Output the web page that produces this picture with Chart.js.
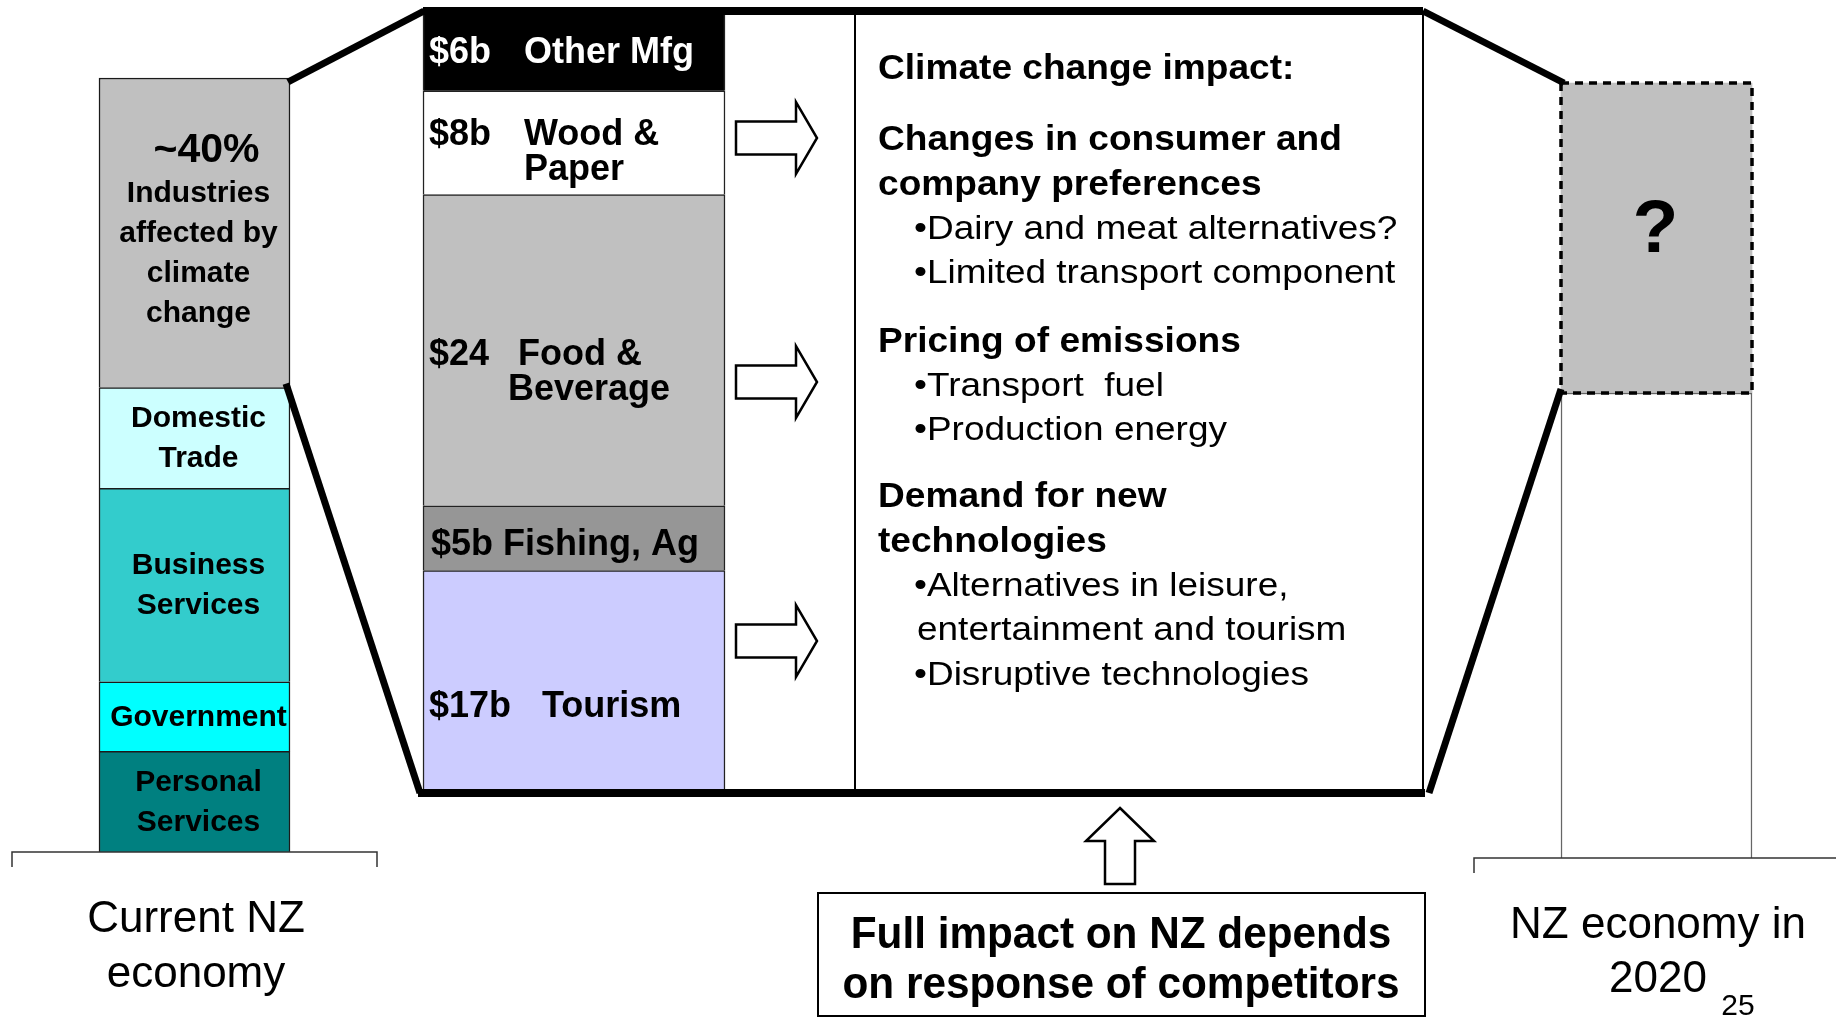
<!DOCTYPE html>
<html lang="en">
<head>
    <meta charset="UTF-8">
    <title>Climate change and the NZ economy</title>
    <script src="https://cdn.jsdelivr.net/npm/chart.js"></script>
    <style>
        body {
            margin: 0;
            background: #ffffff;
        }
        #wrap {
            width: 1836px;
            height: 1018px;
        }
    </style>
</head>
<body>
    <div id="wrap"><canvas id="slide" width="1836" height="1018"></canvas></div>
    <script>
        // Current economy, % share (stacked bottom to top)
        const currentSectors = ['Personal Services', 'Government', 'Business Services', 'Domestic Trade', 'Industries affected by climate change'];
        const currentShares = [13, 9, 25, 13, 40];
        const currentLabels = [['Personal', 'Services'], ['Government'], ['Business', 'Services'], ['Domestic', 'Trade'], ['~40%', 'Industries', 'affected by', 'climate', 'change']];

        // Affected industries, $b (stacked bottom to top)
        const affectedSectors = ['Tourism', 'Fishing, Ag', 'Food & Beverage', 'Wood & Paper', 'Other Mfg'];
        const affectedValues = [17, 5, 24, 8, 6];
        const affectedValueLabels = ['$17b', '$5b', '$24', '$8b', '$6b'];
        const affectedNameLines = [['Tourism'], ['Fishing, Ag'], ['Food &', 'Beverage'], ['Wood &', 'Paper'], ['Other Mfg']];

        // NZ economy in 2020, % share (unknown part on top)
        const futureParts = ['Rest of economy', 'Affected industries'];
        const futureShares = [60, 40];

        const columnTitles = [['Current NZ', 'economy'], ['NZ economy in', '2020']];

        const panelLines = [
            { t: 'Climate change impact:', k: 'h' },
            { t: 'Changes in consumer and', k: 'h', gap: 27 },
            { t: 'company preferences', k: 'h' },
            { t: '\u2022Dairy and meat alternatives?', k: 'b' },
            { t: '\u2022Limited transport component', k: 'b' },
            { t: 'Pricing of emissions', k: 'h', gap: 24 },
            { t: '\u2022Transport  fuel', k: 'b' },
            { t: '\u2022Production energy', k: 'b' },
            { t: 'Demand for new', k: 'h', gap: 23 },
            { t: 'technologies', k: 'h' },
            { t: '\u2022Alternatives in leisure,', k: 'b' },
            { t: 'entertainment and tourism', k: 'b' },
            { t: '\u2022Disruptive technologies', k: 'b' }
        ];
        const footnote = ['Full impact on NZ depends', 'on response of competitors'];

        // ---- layout ----
        const W = 1836, H = 1018;
        const FONT = "'Liberation Sans', Arial, Helvetica, sans-serif";
        const colX = [194.5, 574, 1656.5];          // column centres
        const colW = [191, 302, 191];
        const panel = { left: 855, right: 1423 };
        const arrowRowsY = [138, 382, 641];
        const currentColors = ['#008080', '#00ffff', '#33cccc', '#ccffff', '#c0c0c0'];
        const affectedColors = ['#ccccff', '#969696', '#c0c0c0', '#ffffff', '#000000'];
        const affectedNameDx = [119, null, [95, 85], 101, 101];
        const affectedDy = [36, 17, 15, 2, 11];

        function sum(a) { return a.reduce((s, v) => s + v, 0); }
        // value range so that 0 sits at basePx and the full stack reaches topPx
        function span(total, topPx, basePx) {
            const u = (basePx - topPx) / total;
            return { min: -(H - basePx) / u, max: basePx / u };
        }

        const datasets = [];
        currentSectors.forEach((name, i) => datasets.push({
            label: name,
            data: [{ x: colX[0], y: currentShares[i] }],
            yAxisID: 'yL',
            backgroundColor: currentColors[i],
            borderColor: '#1a1a1a',
            borderWidth: 1.5,
            barThickness: colW[0]
        }));
        affectedSectors.forEach((name, i) => datasets.push({
            label: name,
            data: [{ x: colX[1], y: affectedValues[i] }],
            yAxisID: 'yM',
            backgroundColor: affectedColors[i],
            borderColor: '#222',
            borderWidth: 1.5,
            barThickness: colW[1]
        }));
        futureParts.forEach((name, i) => datasets.push({
            label: name,
            data: [{ x: colX[2], y: futureShares[i] }],
            yAxisID: 'yR',
            backgroundColor: i === 0 ? '#ffffff' : '#c0c0c0',
            borderColor: '#666',
            borderWidth: i === 0 ? 1.5 : 0,
            barThickness: colW[2]
        }));

        function write(ctx, str, x, y, o) {
            ctx.save();
            ctx.font = (o.bold ? 'bold ' : '') + o.size + 'px ' + FONT;
            ctx.fillStyle = o.color || '#000';
            ctx.textAlign = o.align || 'left';
            ctx.textBaseline = 'alphabetic';
            ctx.translate(x, y);
            ctx.scale(o.sx || 1, 1);
            ctx.fillText(str, 0, 0);
            ctx.restore();
        }

        function line(ctx, x1, y1, x2, y2, w) {
            ctx.beginPath();
            ctx.lineWidth = w;
            ctx.moveTo(x1, y1);
            ctx.lineTo(x2, y2);
            ctx.stroke();
        }

        function blockArrowRight(ctx, x0, cy) {
            ctx.beginPath();
            ctx.moveTo(x0, cy - 16.5);
            ctx.lineTo(x0 + 60, cy - 16.5);
            ctx.lineTo(x0 + 60, cy - 36);
            ctx.lineTo(x0 + 81, cy);
            ctx.lineTo(x0 + 60, cy + 36);
            ctx.lineTo(x0 + 60, cy + 16.5);
            ctx.lineTo(x0, cy + 16.5);
            ctx.closePath();
            ctx.fillStyle = '#fff';
            ctx.fill();
            ctx.lineWidth = 2.5;
            ctx.stroke();
        }

        function blockArrowUp(ctx, cx, tipY, bottomY) {
            ctx.beginPath();
            ctx.moveTo(cx, tipY);
            ctx.lineTo(cx + 34, tipY + 33);
            ctx.lineTo(cx + 15, tipY + 33);
            ctx.lineTo(cx + 15, bottomY);
            ctx.lineTo(cx - 15, bottomY);
            ctx.lineTo(cx - 15, tipY + 33);
            ctx.lineTo(cx - 34, tipY + 33);
            ctx.closePath();
            ctx.fillStyle = '#fff';
            ctx.fill();
            ctx.lineWidth = 2.5;
            ctx.stroke();
        }

        const slideArt = {
            id: 'slideArt',
            afterDatasetsDraw(chart) {
                const ctx = chart.ctx;
                const el = i => chart.getDatasetMeta(i).data[0].getProps(['x', 'y', 'base', 'width'], true);
                const nL = currentSectors.length, nM = affectedSectors.length;
                const L = currentSectors.map((_, i) => el(i));
                const M = affectedSectors.map((_, i) => el(nL + i));
                const R = futureParts.map((_, i) => el(nL + nM + i));

                const lRight = L[0].x + L[0].width / 2;
                const mLeft = M[0].x - M[0].width / 2;
                const mTop = M[nM - 1].y, mBase = M[0].base;
                const rLeft = R[0].x - R[0].width / 2;
                const gray = L[nL - 1], rGray = R[1];

                ctx.save();
                ctx.strokeStyle = '#000';
                ctx.lineCap = 'butt';

                // dashed outline of the unknown 2020 share
                ctx.setLineDash([8, 6]);
                ctx.lineWidth = 3.5;
                ctx.strokeRect(rGray.x - rGray.width / 2, rGray.y, rGray.width, rGray.base - rGray.y);
                ctx.setLineDash([]);

                // ground lines under the outer columns
                ctx.strokeStyle = '#333';
                ctx.lineWidth = 1.5;
                [L[0], R[0]].forEach(b => {
                    const y = b.base, x1 = b.x - b.width / 2 - 87, x2 = b.x + b.width / 2 + 87;
                    ctx.beginPath();
                    ctx.moveTo(x1, y + 15); ctx.lineTo(x1, y); ctx.lineTo(x2, y); ctx.lineTo(x2, y + 15);
                    ctx.stroke();
                });

                // panel frame
                ctx.strokeStyle = '#000';
                line(ctx, panel.left, mTop, panel.left, mBase, 2);
                line(ctx, panel.right, mTop, panel.right, mBase, 2);
                line(ctx, mLeft, mTop - 2, panel.right, mTop - 2, 8);
                line(ctx, mLeft - 5, mBase + 2, panel.right + 2, mBase + 2, 8);

                // zoom connectors
                line(ctx, lRight - 2, gray.y + 4, mLeft + 1, mTop - 2, 7);
                line(ctx, lRight - 4, gray.base - 4, mLeft - 3, mBase + 2, 7);
                line(ctx, panel.right, mTop - 2, rLeft + 3, rGray.y, 7);
                line(ctx, panel.right + 6, mBase + 2, rLeft, rGray.base - 4, 7);

                arrowRowsY.forEach(y => blockArrowRight(ctx, 736, y));
                blockArrowUp(ctx, 1120, 808, 884);

                // footnote box
                ctx.lineWidth = 2;
                ctx.strokeRect(818, 893, 607, 123);
                ctx.restore();

                // segment labels, current economy
                L.forEach((b, i) => {
                    const lines = currentLabels[i];
                    const cy = (b.y + b.base) / 2;
                    lines.forEach((s, k) => {
                        const big = i === nL - 1 && k === 0;
                        write(ctx, s, b.x + (big ? 12 : 4), cy + 9 + (k - (lines.length - 1) / 2) * 40,
                            { bold: true, size: big ? 41 : 30, align: 'center' });
                    });
                });

                // segment labels, affected industries
                M.forEach((b, i) => {
                    const left = b.x - b.width / 2;
                    const y0 = (b.y + b.base) / 2 + affectedDy[i];
                    const color = affectedColors[i] === '#000000' ? '#fff' : '#000';
                    const dx = affectedNameDx[i];
                    if (dx === null) {
                        write(ctx, affectedValueLabels[i] + ' ' + affectedNameLines[i].join(' '), left + 8, y0, { bold: true, size: 36, color });
                        return;
                    }
                    write(ctx, affectedValueLabels[i], left + 6, y0, { bold: true, size: 36, color });
                    affectedNameLines[i].forEach((s, k) => {
                        const x = Array.isArray(dx) ? dx[k] : dx;
                        write(ctx, s, left + x, y0 + k * 35, { bold: true, size: 36, color });
                    });
                });

                write(ctx, '?', rGray.x - 1, (rGray.y + rGray.base) / 2 + 14, { bold: true, size: 75, align: 'center' });

                // column titles
                write(ctx, columnTitles[0][0], L[0].x + 1.5, L[0].base + 80, { size: 44, align: 'center' });
                write(ctx, columnTitles[0][1], L[0].x + 1.5, L[0].base + 135, { size: 44, align: 'center' });
                write(ctx, columnTitles[1][0], R[0].x + 1.5, R[0].base + 80, { size: 44, align: 'center' });
                write(ctx, columnTitles[1][1], R[0].x + 1.5, R[0].base + 134, { size: 44, align: 'center' });
                write(ctx, '25', 1738, 1015, { size: 30, align: 'center' });

                // impact panel
                let y = 79;
                panelLines.forEach((p, i) => {
                    if (i > 0) y += 44.3 + (p.gap || 0);
                    if (p.k === 'h') write(ctx, p.t, 878, y, { bold: true, size: 35, sx: 1.06 });
                    else write(ctx, p.t, p.t.startsWith('\u2022') ? 914 : 917, y, { size: 33, sx: 1.12 });
                });

                write(ctx, footnote[0], 1121, 948, { bold: true, size: 45, align: 'center', sx: 0.94 });
                write(ctx, footnote[1], 1121, 998, { bold: true, size: 45, align: 'center', sx: 0.94 });
            }
        };

        const yL = span(sum(currentShares), 78, 852);
        const yM = span(sum(affectedValues), 13, 791);
        const yR = span(sum(futureShares), 83, 858);

        new Chart(document.getElementById('slide'), {
            type: 'bar',
            data: { datasets: datasets },
            options: {
                responsive: false,
                devicePixelRatio: 1,
                animation: false,
                layout: { padding: 0 },
                plugins: {
                    legend: { display: false },
                    tooltip: { enabled: false }
                },
                scales: {
                    x: { type: 'linear', min: 0, max: W, offset: false, stacked: true, display: false },
                    yL: { axis: 'y', type: 'linear', stacked: true, display: false, min: yL.min, max: yL.max },
                    yM: { axis: 'y', type: 'linear', stacked: true, display: false, min: yM.min, max: yM.max },
                    yR: { axis: 'y', type: 'linear', stacked: true, display: false, min: yR.min, max: yR.max }
                }
            },
            plugins: [slideArt]
        });
    </script>
</body>
</html>
